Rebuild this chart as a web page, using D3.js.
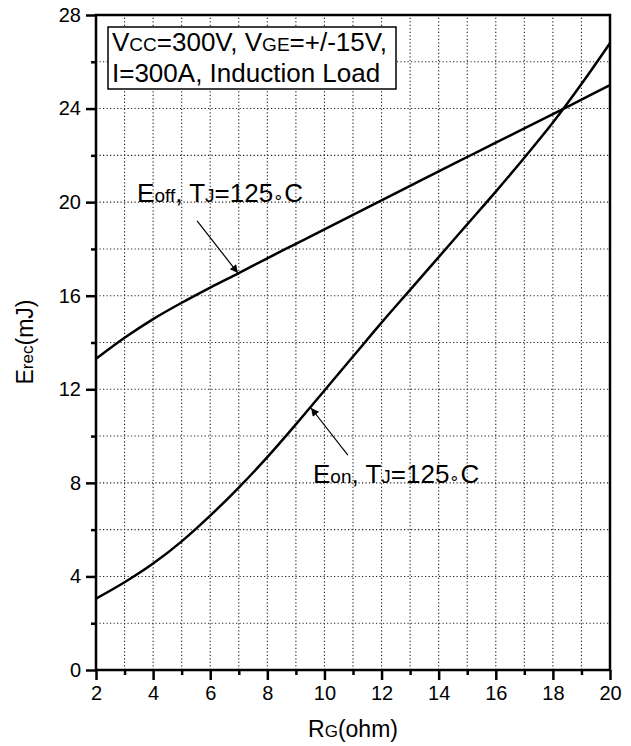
<!DOCTYPE html>
<html><head><meta charset="utf-8">
<script src="https://cdn.jsdelivr.net/npm/d3@7"></script>
<style>body{margin:0;background:#fff}svg{display:block}text{font-family:"Liberation Sans",Arial,sans-serif;fill:#000}</style>
</head><body>
<svg id="c" width="631" height="746"></svg>
<script>
const rgValues = [2,3,4,5,6,7,8,9,10,11,12,13,14,15,16,17,18,19,20];
const eoffValues = [13.3,14.2,15.0,15.7,16.35,16.97,17.6,18.22,18.84,19.46,20.08,20.7,21.32,21.93,22.54,23.15,23.76,24.38,25.0];
const eonValues = [3.05,3.75,4.55,5.5,6.6,7.8,9.1,10.5,11.95,13.4,14.85,16.25,17.65,19.05,20.45,21.9,23.4,25.05,26.8];
const xTickLabels = [2,4,6,8,10,12,14,16,18,20];
const xMinorTicks = [3,5,7,9,11,13,15,17,19];
const yTickLabels = [0,4,8,12,16,20,24,28];
const yMinorTicks = [2,6,10,14,18,22,26];

const svg = d3.select("#c");
const x = d3.scaleLinear().domain([2,20]).range([96,610]);
const y = d3.scaleLinear().domain([0,28]).range([670,15]);

// grid
const g = svg.append("g").attr("stroke","#222").attr("stroke-width",1.1).attr("stroke-dasharray","1.2,2.3");
d3.range(3,20).forEach(v=>g.append("line").attr("x1",x(v)).attr("x2",x(v)).attr("y1",y(0)).attr("y2",y(28)));
d3.range(2,28,2).forEach(v=>g.append("line").attr("y1",y(v)).attr("y2",y(v)).attr("x1",x(2)).attr("x2",x(20)));

// axes
function styleAxis(sel, w){
  sel.select(".domain").remove();
  sel.selectAll(".tick line").attr("stroke","#000").attr("stroke-width",w);
  sel.selectAll(".tick text").style("font-size","20px").style("font-family","Liberation Sans, Arial, sans-serif");
}
svg.append("g").attr("transform",`translate(0,${y(0)})`)
  .call(d3.axisBottom(x).tickValues(xTickLabels).tickSize(10).tickPadding(6).tickFormat(d3.format("d")))
  .call(s=>styleAxis(s,2.5));
svg.append("g").attr("transform",`translate(0,${y(0)})`)
  .call(d3.axisBottom(x).tickValues(xMinorTicks).tickSize(5).tickFormat(""))
  .call(s=>styleAxis(s,2.5));
svg.append("g").attr("transform",`translate(${x(2)},0)`)
  .call(d3.axisLeft(y).tickValues(yTickLabels).tickSize(10).tickPadding(5).tickFormat(d3.format("d")))
  .call(s=>styleAxis(s,2.5));
svg.append("g").attr("transform",`translate(${x(2)},0)`)
  .call(d3.axisLeft(y).tickValues(yMinorTicks).tickSize(5).tickFormat(""))
  .call(s=>styleAxis(s,2.5));

// frame
svg.append("rect").attr("x",x(2)).attr("y",y(28)).attr("width",x(20)-x(2)).attr("height",y(0)-y(28))
  .attr("fill","none").attr("stroke","#000").attr("stroke-width",2.5);

// curves
const line = d3.line().x((d,i)=>x(rgValues[i])).y(d=>y(d)).curve(d3.curveMonotoneX);
svg.append("path").attr("d",line(eoffValues)).attr("fill","none").attr("stroke","#000").attr("stroke-width",2.5);
svg.append("path").attr("d",line(eonValues)).attr("fill","none").attr("stroke","#000").attr("stroke-width",2.5);

// arrows
svg.append("defs").append("marker").attr("id","ah").attr("viewBox","0 0 10 10").attr("refX",10).attr("refY",5)
  .attr("markerWidth",13).attr("markerHeight",8).attr("markerUnits","userSpaceOnUse").attr("orient","auto")
  .append("path").attr("d","M0,0L10,5L0,10Z").attr("fill","#000");
const arrows = [[[5.54,19.2],[6.97,16.97]],[[10.82,9.19],[9.53,11.2]]];
arrows.forEach(a=>svg.append("line").attr("x1",x(a[0][0])).attr("y1",y(a[0][1])).attr("x2",x(a[1][0])).attr("y2",y(a[1][1]))
  .attr("stroke","#000").attr("stroke-width",1.2).attr("marker-end","url(#ah)"));

function rich(sel, parts){
  parts.forEach(p=>{
    const t = sel.append("tspan").text(p[0]).style("font-size",p[1]+"px");
    if (p[2]) t.attr("dy",p[2]);
  });
}
// annotations
const fs=26, sm=19;
const lab = (px,py,sub)=>rich(svg.append("text").attr("x",x(px)).attr("y",y(py)),
  [["E",fs],[sub,sm],[", T",fs],["J",sm],["=125",fs],["∘",17],["C",fs]]);
lab(3.44,20.0,"off");
lab(9.6,8.0,"on");

// legend box
svg.append("rect").attr("x",108).attr("y",27).attr("width",288).attr("height",62)
  .attr("fill","#fff").attr("stroke","#000").attr("stroke-width",1.5);
rich(svg.append("text").attr("x",112).attr("y",51),
  [["V",fs],["CC",sm],["=300V, V",fs],["GE",sm],["=+/-15V,",fs]]);
rich(svg.append("text").attr("x",112).attr("y",82),
  [["I=300A, Induction Load",fs]]);

// axis titles
rich(svg.append("text").attr("x",353).attr("y",737).attr("text-anchor","middle"),
  [["R",23],["G",17],["(ohm)",23]]);
rich(svg.append("text").attr("transform","translate(33,342) rotate(-90)").attr("text-anchor","middle"),
  [["E",23],["rec",17],["(mJ)",23]]);
</script>
</body></html>
